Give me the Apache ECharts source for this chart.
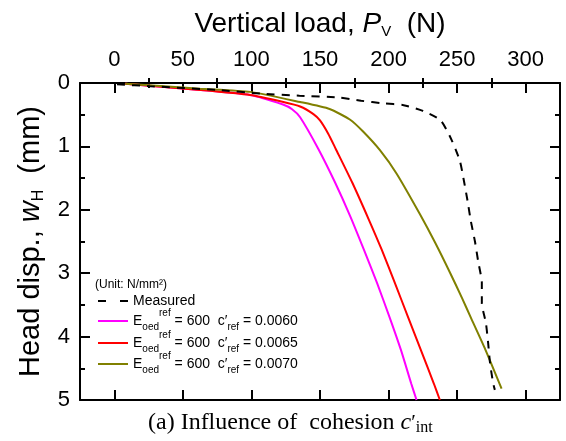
<!DOCTYPE html>
<html><head><meta charset="utf-8">
<script src="https://cdn.jsdelivr.net/npm/echarts@6/dist/echarts.min.js"></script>
<style>html,body{margin:0;padding:0;background:#fff}#c{width:566px;height:441px}</style>
</head><body><div id="c"></div>
<script>
// ---- data ----
const xMajorTicks = [0, 50, 100, 150, 200, 250, 300];
const xMinorTicks = [25, 75, 125, 175, 225, 275];
const yTicks = [0, 1, 2, 3, 4, 5];

const seriesNames = ['Measured', 'c0060', 'c0065', 'c0070'];
const eoedValue = '600';
const cohesionLabels = ['0.0060', '0.0065', '0.0070'];
const seriesColors = ['#000000', '#ff00ff', '#ff0000', '#808000'];

const measuredLoad = [2, 26, 75, 108, 135, 164, 180, 196, 211, 225, 238, 246, 252, 255, 257.6, 260, 263, 265.3, 268, 268, 271, 272.6, 274, 276.3, 277.5];
const measuredDisp = [0.02, 0.05, 0.11, 0.17, 0.2, 0.23, 0.28, 0.32, 0.35, 0.44, 0.59, 0.9, 1.23, 1.55, 1.86, 2.18, 2.5, 2.81, 3.15, 3.47, 3.79, 4.1, 4.42, 4.74, 4.84];

const c0060Load = [8, 62.6, 99, 123, 129.4, 135.5, 148.8, 161, 172, 182, 191.5, 200.5, 209, 216.5, 220.4];
const c0060Disp = [0.01, 0.11, 0.19, 0.34, 0.41, 0.54, 1.04, 1.57, 2.1, 2.63, 3.15, 3.68, 4.21, 4.74, 5.0];

const c0065Load = [8, 62.6, 99, 123.3, 135.5, 145.2, 150, 156, 161.5, 173.5, 185.5, 195, 204.5, 214, 223.5, 233, 237.4];
const c0065Disp = [0.01, 0.11, 0.19, 0.3, 0.37, 0.49, 0.59, 0.8, 1.04, 1.57, 2.15, 2.63, 3.15, 3.68, 4.21, 4.74, 5.0];

const c0070Load = [8, 62.6, 99, 135.5, 157, 172, 181.6, 193.7, 205.9, 222.9, 234, 245, 253.5, 260, 270.5, 282.4];
const c0070Disp = [0.01, 0.09, 0.14, 0.3, 0.41, 0.58, 0.77, 1.06, 1.43, 2.07, 2.52, 3.0, 3.39, 3.7, 4.2, 4.82];

// ---- chart ----
const F = 'Liberation Sans';
const loads = [measuredLoad, c0060Load, c0065Load, c0070Load];
const disps = [measuredDisp, c0060Disp, c0065Disp, c0070Disp];
const zip = (a, b) => a.map((v, i) => [v, b[i]]);

const series = seriesNames.map((n, i) => ({
  name: n, type: 'line', xAxisIndex: 0, yAxisIndex: 0,
  data: zip(loads[i], disps[i]), symbol: 'none', smooth: 0.2,
  color: seriesColors[i],
  lineStyle: { color: seriesColors[i], width: 2, type: i === 0 ? [8, 7] : 'solid' },
  z: i === 0 ? 5 : 3
}));

function legendLabel(name) {
  if (name === 'Measured') return 'Measured';
  const k = seriesNames.indexOf(name) - 1;
  return 'E{sub|oed}{sup|ref} = ' + eoedValue + '  c′{sub|ref} = ' + cohesionLabels[k];
}
const legendRich = {
  sub: { fontSize: 10, fontFamily: F, color: '#000', lineHeight: 14, padding: [13, 0, 0, 0] },
  sup: { fontSize: 10, fontFamily: F, color: '#000', lineHeight: 14, padding: [0, 0, 16, 0] }
};
const legendTops = [294, 308, 330, 351];
const legends = seriesNames.map((n, i) => ({
  data: [n], left: 97, top: legendTops[i], orient: 'vertical', padding: 0, itemGap: 0,
  itemWidth: 30, itemHeight: 14, selectedMode: false,
  itemStyle: { opacity: 0 },
  lineStyle: i === 0 ? { type: [8, 14], width: 2 } : { width: 2 },
  formatter: legendLabel,
  textStyle: { fontSize: 14, fontFamily: F, color: '#000', lineHeight: 14, rich: legendRich }
}));

const axLine = { show: true, onZero: false, lineStyle: { color: '#000', width: 2 } };
const noLine = { show: false };
function xAx(pos, major, label) {
  const o = {
    type: 'value', position: pos, min: -25, max: 325, gridIndex: 0,
    axisLine: major ? axLine : noLine,
    axisTick: { show: true, inside: true, length: major ? 10 : 5, customValues: major ? xMajorTicks : xMinorTicks, lineStyle: { color: '#000', width: 2 } },
    axisLabel: label ? { show: true, customValues: xMajorTicks, fontSize: 22, fontFamily: F, color: '#000', margin: 12 } : { show: false },
    splitLine: { show: false }
  };
  if (label) {
    o.name = 'Vertical load, {i|P}{sub|V}  (N)';
    o.nameLocation = 'middle';
    o.nameGap = 44;
    o.nameTextStyle = {
      fontSize: 28, fontFamily: F, color: '#000',
      rich: {
        i: { fontSize: 28, fontFamily: F, fontStyle: 'italic', color: '#000' },
        sub: { fontSize: 15, fontFamily: F, color: '#000', padding: [15, 0, 0, 0] }
      }
    };
  }
  return o;
}
function yAx(pos, label) {
  const o = {
    type: 'value', position: pos, inverse: true, min: 0, max: 5, interval: 1, gridIndex: 0,
    axisLine: axLine,
    axisTick: { show: true, inside: true, length: 10, lineStyle: { color: '#000', width: 2 } },
    minorTick: { show: true, splitNumber: 2, length: 5, lineStyle: { color: '#000', width: 2 } },
    axisLabel: label ? { show: true, fontSize: 22, fontFamily: F, color: '#000', margin: 10 } : { show: false },
    splitLine: { show: false }, minorSplitLine: { show: false }
  };
  if (label) {
    o.name = 'Head disp., {i|w}{sub|H}  (mm)';
    o.nameLocation = 'middle';
    o.nameGap = 31;
    o.nameRotate = 90;
    o.nameTextStyle = {
      fontSize: 29, fontFamily: F, color: '#000',
      rich: {
        i: { fontSize: 29, fontFamily: F, fontStyle: 'italic', color: '#000' },
        sub: { fontSize: 16, fontFamily: F, color: '#000', padding: [16, 0, 0, 0] }
      }
    };
  }
  return o;
}

const chart = echarts.init(document.getElementById('c'), null, { renderer: 'canvas' });
chart.setOption({
  animation: false,
  backgroundColor: '#fff',
  grid: { left: 80, top: 83, right: 6, bottom: 41, containLabel: false },
  xAxis: [xAx('top', true, true), xAx('top', false, false), xAx('bottom', true, false), xAx('bottom', false, false)],
  yAxis: [yAx('left', true), yAx('right', false)],
  legend: legends,
  graphic: [
    { type: 'text', left: 95, top: 279, style: { text: '(Unit: N/mm²)', fontSize: 12, fontFamily: F, fill: '#000' } },
    { type: 'text', left: 148, top: 411, style: {
      text: '(a) Influence of  cohesion {i|c}{p|′}{sub|int}', fontSize: 24, fontFamily: 'Liberation Serif', fill: '#000',
      rich: {
        i: { fontSize: 24, fontFamily: 'Liberation Serif', fontStyle: 'italic', fill: '#000' },
        p: { fontSize: 21, fontFamily: 'Liberation Serif', fill: '#000' },
        sub: { fontSize: 16, fontFamily: 'Liberation Serif', fill: '#000', padding: [10, 0, 0, 0] }
      }
    } }
  ],
  series: series
});
</script></body></html>
